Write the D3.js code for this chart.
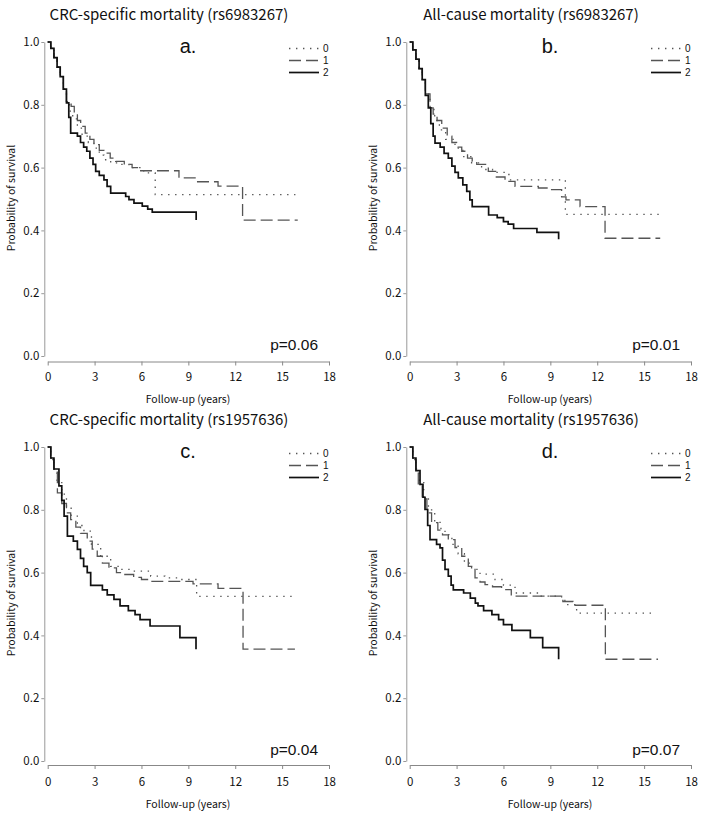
<!DOCTYPE html>
<html>
<head>
<meta charset="utf-8">
<script src="https://cdn.jsdelivr.net/npm/d3@7"></script>
<style>
  html, body { margin: 0; padding: 0; background: #fff; }
  svg { display: block; }
  .jp { font-family: "Noto Sans CJK JP", "DejaVu Sans", sans-serif; }
  .lat { font-family: "Liberation Sans", Arial, sans-serif; }
</style>
</head>
<body>
<svg id="chart" width="704" height="818"></svg>
<script>
// ---------- DATA (time in years, survival probability) ----------
const groups = ["0", "1", "2"];
const xTicks = [0, 3, 6, 9, 12, 15, 18];
const yTicks = [0, 0.2, 0.4, 0.6, 0.8, 1.0];
const titles = [
  "CRC-specific mortality (rs6983267)",
  "All-cause mortality (rs6983267)",
  "CRC-specific mortality (rs1957636)",
  "All-cause mortality (rs1957636)"
];
const letters = ["a.", "b.", "c.", "d."];
const pValues = ["p=0.06", "p=0.01", "p=0.04", "p=0.07"];

// Panel a
const a0 = [[0,1],[0.2,0.98],[0.4,0.95],[0.6,0.92],[0.8,0.89],[1.0,0.85],[1.2,0.806],[1.4,0.78],[1.6,0.755],[1.9,0.726],[2.2,0.70],[2.6,0.68],[2.96,0.662],[3.3,0.64],[3.6,0.625],[4.03,0.615],[4.56,0.61],[5.2,0.60],[5.9,0.59],[6.4,0.583],[6.88,0.514],[15.85,0.514]];
const a1 = [[0,1],[0.2,0.98],[0.4,0.95],[0.6,0.92],[0.8,0.89],[1.0,0.85],[1.2,0.81],[1.5,0.795],[1.7,0.77],[1.9,0.75],[2.11,0.731],[2.4,0.71],[2.7,0.69],[2.96,0.673],[3.3,0.655],[3.6,0.646],[4.0,0.63],[4.35,0.62],[4.9,0.61],[5.4,0.60],[5.95,0.59],[8.4,0.567],[9.5,0.555],[10.9,0.541],[12.47,0.433],[16,0.433]];
const a2 = [[0,1],[0.2,0.98],[0.4,0.95],[0.6,0.92],[0.8,0.89],[1.0,0.85],[1.2,0.806],[1.35,0.76],[1.47,0.71],[1.9,0.70],[2.1,0.68],[2.3,0.665],[2.5,0.652],[2.7,0.63],[2.9,0.61],[3.07,0.588],[3.3,0.575],[3.6,0.561],[3.8,0.54],[4.03,0.519],[4.99,0.508],[5.2,0.498],[5.52,0.487],[6.05,0.477],[6.4,0.468],[6.69,0.458],[9.5,0.433]];

// Panel b
const b0 = [[0,1],[0.2,0.975],[0.4,0.945],[0.6,0.915],[0.8,0.88],[1.0,0.835],[1.3,0.785],[1.6,0.75],[1.9,0.72],[2.3,0.69],[2.9,0.662],[3.4,0.635],[3.96,0.615],[4.6,0.594],[5.3,0.585],[6.1,0.578],[6.4,0.561],[9.96,0.451],[16.03,0.451]];
const b1 = [[0,1],[0.2,0.975],[0.4,0.945],[0.6,0.915],[0.8,0.88],[1.0,0.835],[1.3,0.79],[1.5,0.77],[1.75,0.75],[2.05,0.726],[2.4,0.70],[2.7,0.68],[3.0,0.665],[3.33,0.652],[3.7,0.63],[4.0,0.62],[4.29,0.61],[5.03,0.588],[5.5,0.57],[6.1,0.556],[6.74,0.54],[8.23,0.535],[9.08,0.53],[9.72,0.507],[10.0,0.497],[10.9,0.476],[12.5,0.375],[16.03,0.375]];
const b2 = [[0,1],[0.2,0.975],[0.4,0.945],[0.6,0.915],[0.8,0.88],[1.0,0.83],[1.19,0.79],[1.35,0.74],[1.5,0.70],[1.62,0.678],[1.95,0.665],[2.2,0.645],[2.47,0.63],[2.7,0.605],[2.9,0.585],[3.11,0.567],[3.4,0.545],[3.65,0.524],[3.85,0.497],[4.0,0.476],[5.05,0.449],[5.6,0.441],[6.0,0.428],[6.3,0.42],[6.65,0.406],[8.14,0.394],[9.53,0.372]];

// Panel c
const c0 = [[0,1],[0.2,0.965],[0.4,0.93],[0.6,0.89],[0.9,0.85],[1.2,0.81],[1.5,0.78],[1.9,0.75],[2.32,0.732],[2.8,0.69],[3.39,0.652],[4.03,0.62],[4.6,0.61],[5.3,0.605],[6.59,0.589],[7.5,0.583],[8.5,0.578],[9.53,0.524],[15.7,0.524]];
const c1 = [[0,1],[0.2,0.96],[0.4,0.92],[0.62,0.854],[0.9,0.82],[1.2,0.79],[1.47,0.769],[1.8,0.745],[2.1,0.725],[2.53,0.70],[2.85,0.675],[3.17,0.652],[3.5,0.63],[3.92,0.615],[4.4,0.60],[4.88,0.594],[5.5,0.585],[6.0,0.578],[6.59,0.572],[9.3,0.564],[10.9,0.55],[12.5,0.356],[15.82,0.356]];
const c2 = [[0,1],[0.2,0.965],[0.4,0.93],[0.72,0.876],[0.9,0.83],[1.05,0.78],[1.26,0.716],[1.64,0.70],[1.9,0.674],[2.1,0.645],[2.3,0.62],[2.53,0.60],[2.75,0.559],[3.5,0.545],[3.81,0.529],[4.24,0.515],[4.63,0.494],[5.16,0.479],[5.59,0.466],[5.91,0.45],[6.55,0.43],[8.46,0.393],[9.49,0.356]];

// Panel d
const d0 = [[0,1],[0.2,0.965],[0.4,0.93],[0.6,0.89],[0.9,0.84],[1.2,0.80],[1.6,0.76],[2.0,0.735],[2.26,0.721],[2.7,0.69],[3.1,0.66],[3.5,0.63],[3.96,0.61],[4.5,0.595],[5.46,0.578],[6.0,0.56],[6.74,0.535],[8.23,0.525],[9.72,0.514],[9.93,0.498],[10.68,0.471],[15.6,0.471]];
const d1 = [[0,1],[0.2,0.96],[0.4,0.92],[0.55,0.88],[0.8,0.835],[1.1,0.79],[1.4,0.759],[1.8,0.735],[2.1,0.72],[2.47,0.705],[2.9,0.68],[3.33,0.652],[3.75,0.62],[4.18,0.583],[4.5,0.57],[4.82,0.562],[5.3,0.555],[5.88,0.546],[6.5,0.525],[9.8,0.508],[10.45,0.496],[12.52,0.324],[15.89,0.324]];
const d2 = [[0,1],[0.2,0.965],[0.4,0.925],[0.66,0.881],[0.85,0.84],[0.98,0.801],[1.15,0.75],[1.3,0.705],[1.72,0.69],[1.94,0.679],[2.1,0.64],[2.26,0.61],[2.47,0.589],[2.65,0.56],[2.79,0.545],[3.45,0.535],[3.88,0.519],[4.2,0.503],[4.37,0.494],[4.73,0.479],[5.26,0.466],[5.69,0.45],[6.0,0.434],[6.54,0.416],[7.72,0.393],[8.51,0.361],[9.53,0.324]];

const panelData = [[a0, a1, a2], [b0, b1, b2], [c0, c1, c2], [d0, d1, d2]];

// ---------- LAYOUT ----------
const offsets = [[0, 0], [362, 0], [0, 405], [362, 405]];
const xAxisY = [361.5, 361.5, 360, 360];
const styles = [
  { color: "#555", width: 1.3, dash: "1.4,5.6" },
  { color: "#555", width: 1.3, dash: "12,5" },
  { color: "#111", width: 1.7, dash: null }
];

const svg = d3.select("#chart");

panelData.forEach((series, i) => {
  const [ox, oy] = offsets[i];
  const g = svg.append("g").attr("transform", `translate(${ox},${oy})`);
  const x = d3.scaleLinear().domain([0, 18]).range([47.7, 329]);
  const y = d3.scaleLinear().domain([0, 1]).range([356, 42]);

  // title
  g.append("text").attr("class", "jp")
    .attr("x", 169).attr("y", 20)
    .attr("text-anchor", "middle")
    .attr("font-size", 15).attr("fill", "#111")
    .text(titles[i]);

  // x axis (minor + major)
  const xg = g.append("g").attr("transform", `translate(0,${xAxisY[i]})`);
  xg.call(d3.axisBottom(x).tickValues(d3.range(0, 18.001, 0.5)).tickSize(2).tickSizeOuter(0).tickFormat(""));
  xg.call(d3.axisBottom(x).tickValues(xTicks).tickSize(4).tickSizeOuter(0)
    .tickPadding(373 - xAxisY[i] - 4).tickFormat(d3.format("d")));
  xg.selectAll("path, line").attr("stroke", "#888");
  xg.selectAll("text").attr("class", "jp").attr("font-size", 11.5).attr("fill", "#111");

  // y axis (minor + major)
  const yg = g.append("g").attr("transform", "translate(44.3,0)");
  yg.call(d3.axisLeft(y).tickValues(d3.range(0, 1.0001, 0.025)).tickSize(2).tickSizeOuter(0).tickFormat(""));
  yg.call(d3.axisLeft(y).tickValues(yTicks).tickSize(3).tickSizeOuter(0)
    .tickPadding(2).tickFormat(d3.format(".1f")));
  yg.selectAll("path, line").attr("stroke", "#999");
  yg.selectAll("text").attr("class", "jp").attr("font-size", 11.5).attr("fill", "#111");

  // axis titles
  g.append("text").attr("class", "jp")
    .attr("x", 188).attr("y", 403)
    .attr("text-anchor", "middle").attr("font-size", 10.5).attr("fill", "#111")
    .text("Follow-up (years)");
  g.append("text").attr("class", "jp")
    .attr("transform", "translate(15,198) rotate(-90)")
    .attr("text-anchor", "middle").attr("font-size", 10.5).attr("fill", "#111")
    .text("Probability of survival");

  // curves
  const line = d3.line().x(d => x(d[0])).y(d => y(d[1])).curve(d3.curveStepAfter);
  series.forEach((data, k) => {
    const s = styles[k];
    g.append("path").datum(data)
      .attr("d", line)
      .attr("fill", "none")
      .attr("stroke", s.color)
      .attr("stroke-width", s.width)
      .attr("stroke-dasharray", s.dash);
  });

  // panel letter
  g.append("text").attr("class", "lat")
    .attr("x", 188).attr("y", 53)
    .attr("text-anchor", "middle").attr("font-size", 20).attr("fill", "#111")
    .text(letters[i]);

  // legend
  groups.forEach((name, k) => {
    const s = styles[k];
    const ly = 48.5 + k * 12;
    g.append("line")
      .attr("x1", 289).attr("x2", 319).attr("y1", ly).attr("y2", ly)
      .attr("stroke", s.color).attr("stroke-width", s.width)
      .attr("stroke-dasharray", s.dash);
    g.append("text").attr("class", "lat")
      .attr("x", 323).attr("y", ly).attr("dy", "0.35em")
      .attr("font-size", 10).attr("fill", "#111")
      .text(name);
  });

  // p value
  g.append("text").attr("class", "lat")
    .attr("x", 318).attr("y", 350)
    .attr("text-anchor", "end").attr("font-size", 15.5).attr("fill", "#111")
    .text(pValues[i]);
});
</script>
</body>
</html>
